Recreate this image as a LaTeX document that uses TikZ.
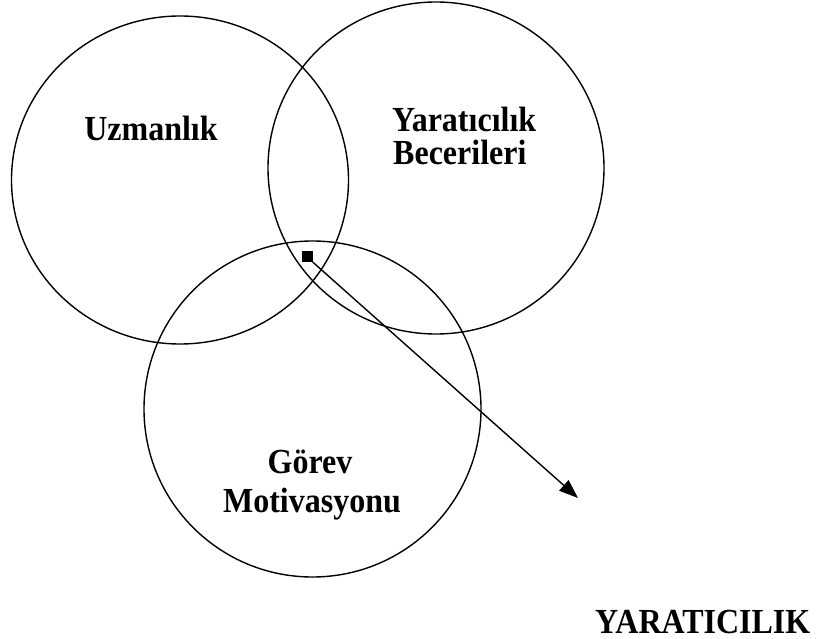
\documentclass[tikz,border=0pt]{standalone}
\usepackage{fontspec}
\setmainfont{Liberation Serif}
\usetikzlibrary{arrows.meta,shapes.geometric}
\tikzset{
  venn/.style={draw, ellipse, line width=1.4pt, inner sep=0pt},
  lbl/.style={font=\bfseries\fontsize{32}{33}\selectfont, inner sep=0pt}
}
\begin{document}
\begin{tikzpicture}[x=1pt,y=-1pt]
    \useasboundingbox (0,0) rectangle (817,639);

    % Three overlapping areas
    \node[venn, minimum width=337pt, minimum height=328pt] (uzman) at (180,180) {};
    \node[venn, minimum width=336pt, minimum height=332pt] (beceri) at (436,168) {};
    \node[venn, minimum width=337pt, minimum height=336pt] (gorev) at (312.5,409) {};

    % Labels inside the areas
    \node[lbl, anchor=base] (uzmanlik) at (151,141) {\scalebox{1}[1.1]{Uzmanlık}};
    \node[lbl, anchor=base west] (yaratici) at (392,132) {\scalebox{1}[1.1]{Yaratıcılık}};
    \node[lbl, anchor=base west] (beceriler) at (393,165) {\scalebox{1}[1.1]{Becerileri}};
    \node[lbl, anchor=base] (gorevlbl) at (310,473) {\scalebox{1}[1.1]{Görev}};
    \node[lbl, anchor=base] (motiv) at (312,512) {\scalebox{1}[1.1]{Motivasyonu}};

    % Common point and arrow
    \node[fill, minimum size=11pt, inner sep=0pt] (kesisim) at (307,257) {};
    \coordinate (uc) at (578,498);
    \draw[line width=1.4pt, -{Triangle[length=19pt,width=14pt]}] (kesisim) -- (uc);

    % Result
    \node[lbl, anchor=base west] (sonuc) at (595,633) {\scalebox{1}[1.1]{YARATICILIK}};
\end{tikzpicture}
\end{document}
